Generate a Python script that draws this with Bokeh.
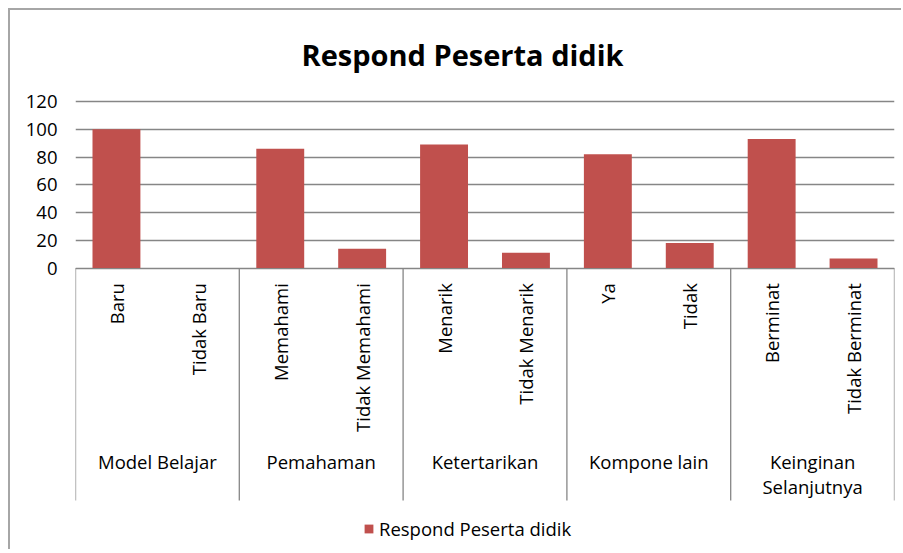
import math
from bokeh.plotting import figure
from bokeh.models import Range1d, FixedTicker, ColumnDataSource, Legend, LegendItem
from bokeh.core.properties import value
from bokeh.embed import file_html
from bokeh.resources import INLINE

# ---- data ----
categories = ["Baru", "Tidak Baru", "Memahami", "Tidak Memahami", "Menarik",
              "Tidak Menarik", "Ya", "Tidak", "Berminat", "Tidak Berminat"]
values = [100, 0, 86, 14, 89, 11, 82, 18, 93, 7]
groups = ["Model Belajar", "Pemahaman", "Ketertarikan", "Kompone lain",
          "Keinginan\nSelanjutnya"]
group_sizes = [2, 2, 2, 2, 2]
y_ticks = [0, 20, 40, 60, 80, 100, 120]
series_name = "Respond Peserta didik"

# ---- derived positions ----
xs = [i + 0.5 for i in range(len(categories))]
boundaries = [0]
for s in group_sizes:
    boundaries.append(boundaries[-1] + s)
group_centers = [(boundaries[i] + boundaries[i + 1]) / 2 for i in range(len(groups))]

BAR = "#C0504D"
GRID = "#868686"
FONT = "Open Sans"
FS = "18.5px"

y_top = 123.6
y_bottom = -204.1
sep_bottom = -167.4
cat_label_y = -10.8
group_label_y = -130.0

p = figure(width=893, height=541, x_range=Range1d(0, len(categories)),
           y_range=Range1d(y_bottom, y_top), output_backend="svg",
           toolbar_location=None, x_axis_location=None,
           min_border_left=65, min_border_right=9, min_border_top=85,
           min_border_bottom=0)
p.styles = {"margin-left": "8px", "margin-top": "8px",
            "border-left": "2px solid #a6a6a6", "border-top": "2px solid #a6a6a6"}
p.outline_line_color = None
p.background_fill_color = "white"
p.border_fill_color = "white"

p.title.text = series_name
p.title.text_font = "Open Sans"
p.title.text_font_style = "bold"
p.title.text_font_size = "29px"
p.title.align = "left"
p.title.offset = 226
p.title.standoff = 45
p.title.text_color = "black"

p.xgrid.visible = False
p.ygrid.ticker = FixedTicker(ticks=y_ticks)
p.ygrid.grid_line_color = GRID
p.ygrid.grid_line_width = 1.3

p.yaxis.ticker = FixedTicker(ticks=y_ticks)
p.yaxis.axis_line_color = None
p.yaxis.major_tick_line_color = None
p.yaxis.minor_tick_line_color = None
p.yaxis.major_tick_out = 0
p.yaxis.major_label_standoff = 18
p.yaxis.major_label_text_font = FONT
p.yaxis.major_label_text_font_size = FS
p.yaxis.major_label_text_color = "black"

src = ColumnDataSource(dict(x=xs, top=values, cat=categories))
bars = p.vbar(x="x", top="top", width=0.585, source=src,
              fill_color=BAR, line_color=None)

p.segment(x0=boundaries, y0=[0] * len(boundaries), x1=boundaries,
          y1=[sep_bottom] * len(boundaries), line_color=GRID, line_width=1.3)

p.text(x="x", y=cat_label_y, text="cat", source=src, angle=math.pi / 2,
       text_align="right", text_baseline="middle", text_font=value(FONT),
       text_font_size=FS, text_color="black")

p.text(x=group_centers, y=[group_label_y] * len(groups), text=groups,
       text_align="center", text_baseline="top", text_font=value(FONT),
       text_font_size=FS, text_color="black", text_line_height=1.03)

legend = Legend(items=[LegendItem(label=series_name, renderers=[bars])],
                location=(288, 10), orientation="horizontal",
                glyph_width=11, glyph_height=11, label_standoff=5,
                label_text_font=FONT, label_text_font_size=FS,
                label_text_color="black", padding=0, margin=0,
                border_line_color=None, background_fill_alpha=0)
p.add_layout(legend)

open("out.html", "w").write(file_html(p, INLINE))
